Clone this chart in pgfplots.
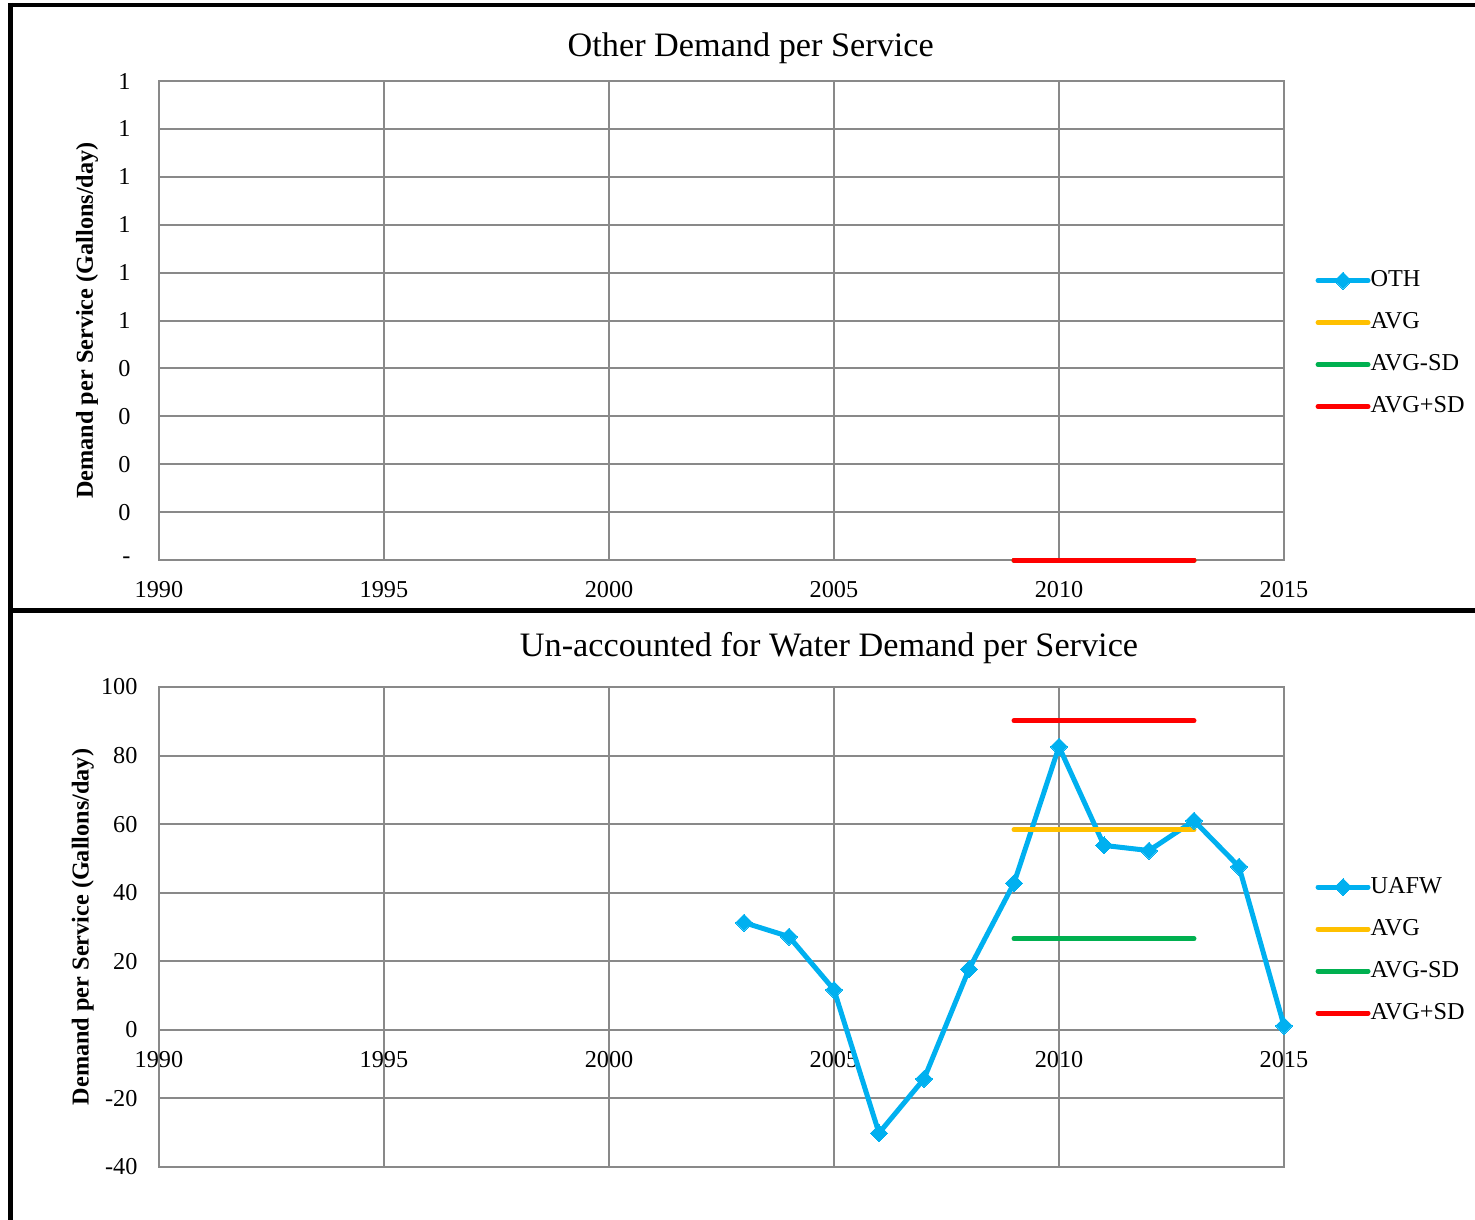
\documentclass[border=0pt]{standalone}
\usepackage{fontspec}
\setmainfont{Liberation Serif}
\usepackage{pgfplots}
\pgfplotsset{compat=1.18}

\definecolor{cBlue}{RGB}{0,176,240}
\definecolor{cOrange}{RGB}{255,192,0}
\definecolor{cGreen}{RGB}{0,176,80}
\definecolor{cRed}{RGB}{255,0,0}
\definecolor{cGrid}{RGB}{137,137,137}

\pgfplotsset{
  chart/.style={
    scale only axis,
    width=450pt,
    xmin=1990, xmax=2015,
    xtick={1990,1995,2000,2005,2010,2015},
    /pgf/number format/1000 sep={},
    /pgf/number format/assume math mode=true,
    grid=major,
    grid style={cGrid, line width=0.8pt},
    axis line style={cGrid, line width=0.8pt},
    major tick length=0pt,
    clip=false,
    tick label style={font=\fontsize{9.7}{11}\selectfont, inner sep=0pt},
    xticklabel style={anchor=north},
    yticklabel style={anchor=east},
    ylabel={Demand per Service (Gallons/day)},
    ylabel style={font=\fontsize{9.7}{11}\selectfont\bfseries, inner sep=0pt},
    title style={font=\fontsize{13.7}{16}\selectfont, anchor=base, inner sep=0pt},
    legend cell align=left,
    legend style={draw=none, fill=none, inner sep=0pt, anchor=north west,
      font=\fontsize{9.7}{11}\selectfont,
      nodes={inner sep=0pt, text height=8pt, text depth=3pt},
      row sep=5.8pt},
    /tikz/every even column/.append style={column sep=2pt},
    legend image code/.code={\draw[#1, line cap=round] (0pt,0pt) -- (20pt,0pt);},
  },
  sline/.style={line width=2pt, line cap=round},
  uline/.style={cBlue, line width=2pt, mark=square*, mark size=2.4pt,
    mark options={rotate=45, solid, fill=cBlue, draw=cBlue, line width=0pt}},
  mlegend/.style={legend image code/.code={%
    \draw[##1, line cap=round] (0pt,0pt) -- (20pt,0pt);
    \draw[##1, only marks] plot coordinates {(10pt,0pt)};}},
}

\begin{document}
\begin{tikzpicture}
\useasboundingbox (0pt,0pt) rectangle (590pt,-488pt);
\draw[line width=1.8pt] (3.4pt,-2pt) -- (590pt,-2pt);
\draw[line width=1.8pt] (4.2pt,-1.1pt) -- (4.2pt,-488pt);
\draw[line width=1.8pt] (3.4pt,-244.2pt) -- (590pt,-244.2pt);

% top chart
\begin{axis}[chart,
  at={(63.6pt,-224pt)}, anchor=south west, height=191.6pt,
  ymin=0, ymax=1,
  ytick={0,0.1,0.2,0.3,0.4,0.5,0.6,0.7,0.8,0.9,1},
  yticklabels={{-\hspace{4.8pt}},0,0,0,0,1,1,1,1,1,1},
  yticklabel style={xshift=-11.2pt},
  xticklabel style={yshift=-8.4pt},
  ylabel style={at={(axis description cs:-0.064,0.5)}, anchor=center},
  title={Other Demand per Service},
  title style={at={(axis description cs:0.526,1)}, yshift=3.8pt},
  legend style={at={(axis description cs:1.0276,0.613)}},
]
\addlegendimage{uline, mlegend}
\addlegendentry{OTH}
\addplot[sline, cOrange] coordinates {(2009,0) (2013,0)};
\addlegendentry{AVG}
\addplot[sline, cGreen] coordinates {(2009,0) (2013,0)};
\addlegendentry{AVG-SD}
\addplot[sline, cRed] coordinates {(2009,0) (2013,0)};
\addlegendentry{AVG+SD}
\end{axis}

% bottom chart
\begin{axis}[chart,
  at={(63.6pt,-466.8pt)}, anchor=south west, height=192pt,
  ymin=-40, ymax=100,
  ytick={-40,-20,0,20,40,60,80,100},
  yticklabel style={xshift=-8.4pt},
  xticklabel style={yshift=46.4pt},
  ylabel style={at={(axis description cs:-0.0676,0.5)}, anchor=center},
  title={Un-accounted for Water Demand per Service},
  title style={at={(axis description cs:0.5956,1)}, yshift=6.2pt},
  legend style={at={(axis description cs:1.0276,0.613)}},
]
\addplot[uline, mlegend] coordinates {
  (2003,31.3) (2004,27.2) (2005,11.7) (2006,-30.1) (2007,-14.3)
  (2008,17.7) (2009,42.8) (2010,82.6) (2011,53.8) (2012,52.3)
  (2013,61.0) (2014,47.6) (2015,1.2)};
\addlegendentry{UAFW}
\addplot[sline, cOrange] coordinates {(2009,58.4) (2013,58.4)};
\addlegendentry{AVG}
\addplot[sline, cGreen] coordinates {(2009,26.6) (2013,26.6)};
\addlegendentry{AVG-SD}
\addplot[sline, cRed] coordinates {(2009,90.2) (2013,90.2)};
\addlegendentry{AVG+SD}
\end{axis}
\end{tikzpicture}
\end{document}
